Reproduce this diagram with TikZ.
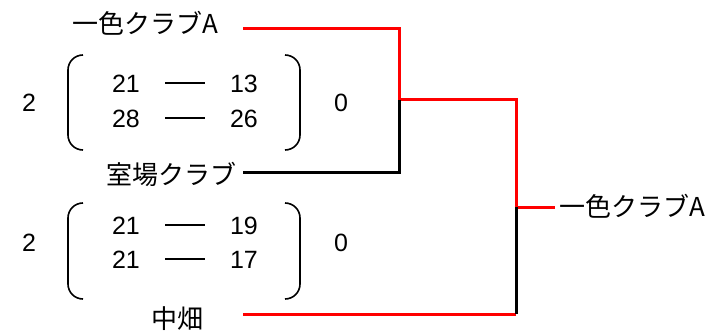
\documentclass[tikz,border=0pt]{standalone}
\usepackage{fontspec}
\setmainfont{Liberation Sans}
\newfontfamily\jpfont{Noto Sans CJK JP}
\usetikzlibrary{positioning}

\begin{document}
\begin{tikzpicture}[x=1pt,y=-1pt,
  win/.style={red,line width=3pt},
  lose/.style={black,line width=3pt},
  paren/.style={line width=1.6pt,rounded corners=15pt},
  team/.style={font=\jpfont\fontsize{26}{26}\selectfont,inner sep=0pt},
  score/.style={font=\fontsize{25}{25}\selectfont,inner sep=0pt}]
\useasboundingbox (0,0) rectangle (720,334);

% teams
\node[team] (ishiki) at (145,23) {一色クラブA};
\node[team] (muroba) at (171,174) {室場クラブ};
\node[team] (nakahata) at (177,319) {中畑};
\node[team,anchor=west] (champ) at (559,206) {一色クラブA};

\coordinate (s1) at (243,29);
\coordinate (s2) at (243,172);
\coordinate (s3) at (243,314);
\coordinate (j1) at (399,100);
\coordinate (j2) at (516,207);
\coordinate (s4) at (555,207);

% bracket
\draw[win] (s1) -- (s1 -| j1) -- (j1) -- (j1 -| j2) -- (j2) -- (s4);
\draw[lose] (s2) -- (s2 -| j1) -- (j1);
\draw[win] (s3) -- (s3 -| j2);
\draw[lose] (s3 -| j2) -- (j2);

% scores
\foreach \m/\top/\bot/\ya/\yb/\g/\a/\b/\c/\d in
  {1/55/150/84/119/103/21/13/28/26, 2/203/299/226/260/243/21/19/21/17}{
  \draw[paren] (83,\top) -- (68,\top) -- (68,\bot) -- (83,\bot);
  \draw[paren] (285,\top) -- (300,\top) -- (300,\bot) -- (285,\bot);
  \node[score] (g\m l) at (29,\g) {2};
  \node[score] (g\m r) at (341,\g) {0};
  \node[score] (p\m a) at (126,\ya) {\a};
  \node[score] (p\m b) at (244,\ya) {\b};
  \node[score] (p\m c) at (126,\yb) {\c};
  \node[score] (p\m d) at (244,\yb) {\d};
  \draw[line width=2.5pt] (165,\ya-1) -- (205,\ya-1);
  \draw[line width=2.5pt] (165,\yb-1) -- (205,\yb-1);
}
\end{tikzpicture}
\end{document}
